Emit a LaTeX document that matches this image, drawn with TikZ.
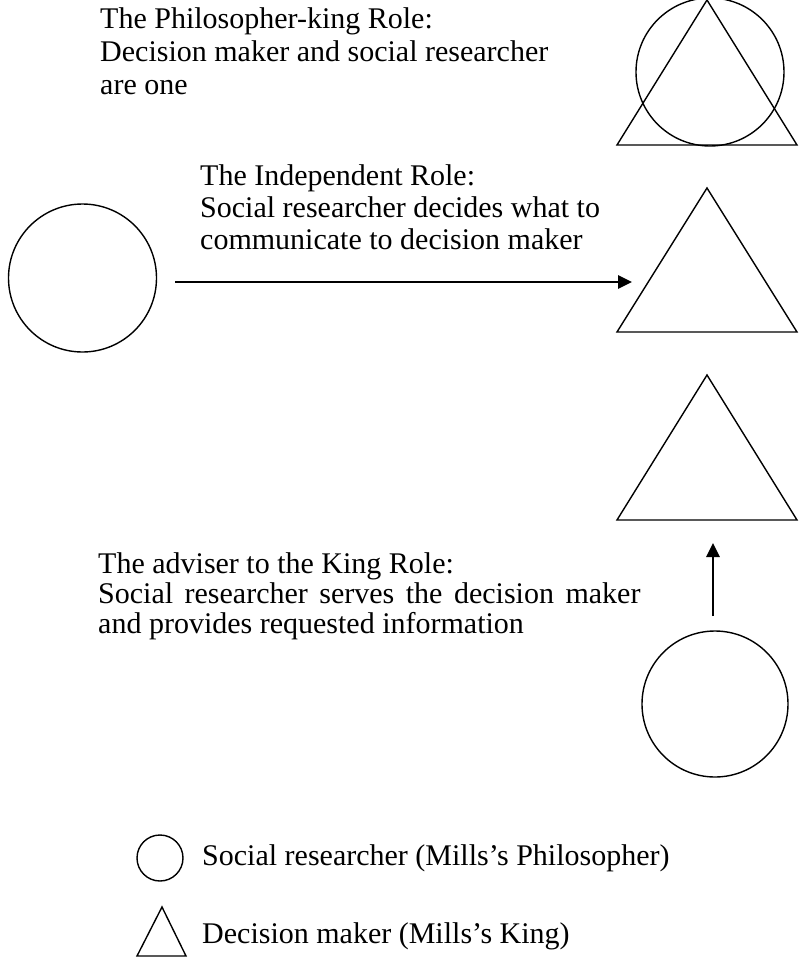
\documentclass[tikz,border=0pt]{standalone}
\usepackage{fontspec}
\setmainfont{Liberation Serif}
\usetikzlibrary{arrows.meta}
\tikzset{
	rolecircle/.style={draw,circle,line width=1.4pt,inner sep=0pt,minimum size=#1},
	roleline/.style={line width=1.4pt,line join=miter},
	rolearrow/.style={line width=2.8pt,-{Triangle[length=14pt,width=13pt]}},
	roletext/.style={anchor=north west,inner sep=0pt,align=left,font=\fontsize{30}{33}\selectfont}
}
\begin{document}
\begin{tikzpicture}[x=1pt,y=-1pt]
		\useasboundingbox (0,0) rectangle (801,962);
		% philosopher-king
		\node[rolecircle=148pt] (pkc) at (710,72) {};
		\draw[roleline] (707,0)--(797,145)--(617,145)--cycle;
		\node[roletext] (pkt) at (100,7) {The Philosopher-king Role:\\Decision maker and social researcher\\are one};
		% independent
		\node[rolecircle=148pt] (inc) at (82.5,278) {};
		\draw[roleline] (707,188)--(797,332)--(617,332)--cycle;
		\coordinate (intip) at (632,282);
		\draw[rolearrow] (175,282) coordinate (inend) -- (intip);
		\node[roletext,font=\fontsize{30}{32}\selectfont] (int) at (200,164) {The Independent Role:\\Social researcher decides what to\\communicate to decision maker};
		% adviser
		\draw[roleline] (707,375)--(797,520)--(617,520)--cycle;
		\node[rolecircle=146pt] (adc) at (715,704) {};
		\coordinate (adend) at (713,616);
		\coordinate (adtip) at (713,543);
		\draw[rolearrow] (adend) -- (adtip);
		\node[roletext,font=\fontsize{30}{30}\selectfont] (adt) at (98,552) {The adviser to the King Role:\\{\spaceskip=11.5pt Social researcher serves the decision maker}\\and provides requested information};
		% legend
		\node[rolecircle=46pt] (lgc) at (160,858) {};
		\draw[roleline] (162,907)--(186,956)--(137,956)--cycle;
		\node[anchor=base west,inner sep=0pt,font=\fontsize{30}{32}\selectfont] (lgct) at (202,865) {Social researcher (Mills’s Philosopher)};
		\node[anchor=base west,inner sep=0pt,font=\fontsize{30}{32}\selectfont] (lgtt) at (202,943) {Decision maker (Mills’s King)};
	\end{tikzpicture}
\end{document}
